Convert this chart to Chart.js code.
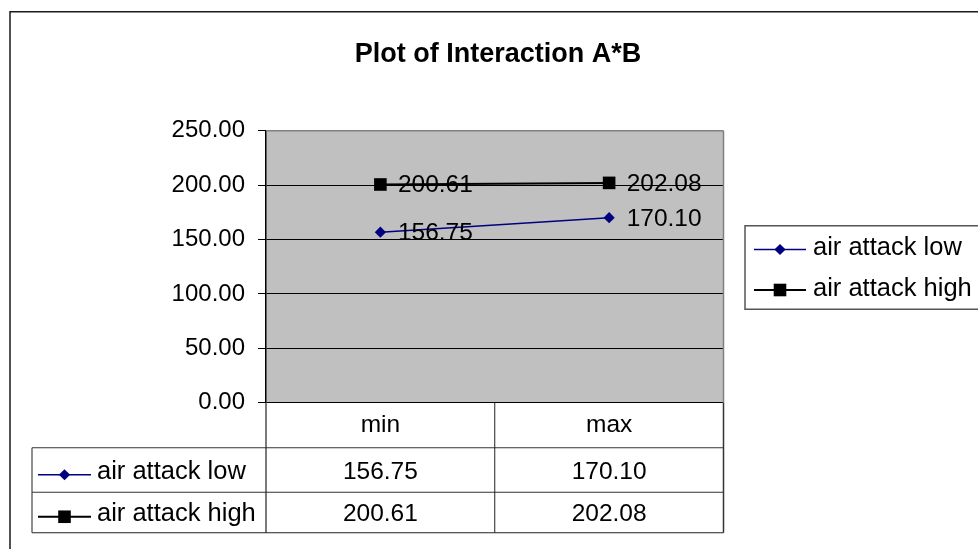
<!DOCTYPE html>
<html>
<head>
<meta charset="utf-8">
<script src="https://cdn.jsdelivr.net/npm/chart.js@4/dist/chart.umd.min.js"></script>
<style>
  html, body { margin: 0; padding: 0; background: #fff; overflow: hidden; }
  canvas { display: block; }
</style>
</head>
<body>
<canvas id="chart" width="978" height="549"></canvas>
<script>
// ---- data ----
const chartTitle = 'Plot of Interaction A*B';
const categories = ['min', 'max'];
const seriesNames = ['air attack low', 'air attack high'];
const airAttackLow = [156.75, 170.10];
const airAttackHigh = [200.61, 202.08];
const yTickValues = [0, 50, 100, 150, 200, 250];

// ---- look ----
const FONT = "'Liberation Sans', Arial, Helvetica, sans-serif";
const seriesStyles = [
  { color: '#000080', lineWidth: 1.5, marker: 'diamond', size: 5.6 },
  { color: '#000000', lineWidth: 2, marker: 'square', size: 6.3 }
];
const seriesValues = [airAttackLow, airAttackHigh];

function drawMarker(ctx, kind, x, y, s, color) {
  ctx.save();
  ctx.fillStyle = color;
  ctx.beginPath();
  if (kind === 'diamond') {
    ctx.moveTo(x, y - s); ctx.lineTo(x + s, y); ctx.lineTo(x, y + s); ctx.lineTo(x - s, y);
    ctx.closePath();
  } else {
    ctx.rect(x - s, y - s, 2 * s, 2 * s);
  }
  ctx.fill();
  ctx.restore();
}

function drawKey(ctx, i, x0, x1, y) {
  const st = seriesStyles[i];
  ctx.save();
  ctx.strokeStyle = st.color;
  ctx.lineWidth = st.lineWidth;
  ctx.beginPath(); ctx.moveTo(x0, y); ctx.lineTo(x1, y); ctx.stroke();
  ctx.restore();
  drawMarker(ctx, st.marker, (x0 + x1) / 2, y, st.size, st.color);
}

function hline(ctx, x0, x1, y, color, w) {
  ctx.save(); ctx.strokeStyle = color; ctx.lineWidth = w || 1;
  ctx.beginPath(); ctx.moveTo(x0, y); ctx.lineTo(x1, y); ctx.stroke(); ctx.restore();
}
function vline(ctx, x, y0, y1, color, w) {
  ctx.save(); ctx.strokeStyle = color; ctx.lineWidth = w || 1;
  ctx.beginPath(); ctx.moveTo(x, y0); ctx.lineTo(x, y1); ctx.stroke(); ctx.restore();
}

// background, frame and grey plot area
const backdrop = {
  id: 'backdrop',
  beforeDraw(chart) {
    const { ctx, chartArea: a } = chart;
    ctx.save();
    ctx.fillStyle = '#ffffff';
    ctx.fillRect(0, 0, chart.width, chart.height);
    ctx.strokeStyle = '#1a1a1a';
    ctx.lineWidth = 1.5;
    ctx.strokeRect(10, 11.75, 1100, 700);
    ctx.fillStyle = '#c0c0c0';
    ctx.fillRect(a.left, a.top, a.right - a.left, a.bottom - a.top);
    ctx.restore();
  }
};

// value labels next to each point
const valueLabels = {
  id: 'valueLabels',
  afterDatasetsDraw(chart) {
    const ctx = chart.ctx;
    ctx.save();
    ctx.font = '24.5px ' + FONT;
    ctx.fillStyle = '#000';
    ctx.textAlign = 'left';
    ctx.textBaseline = 'alphabetic';
    chart.data.datasets.forEach((ds, i) => {
      chart.getDatasetMeta(i).data.forEach((pt, j) => {
        ctx.fillText(ds.data[j].toFixed(2), pt.x + 17.5, pt.y + 8);
      });
    });
    ctx.restore();
  }
};

// plot border, data table, legend and title
const decorations = {
  id: 'decorations',
  afterDraw(chart) {
    const { ctx, chartArea: a } = chart;
    const xs = chart.scales.x;

    // plot area border (top and right)
    hline(ctx, a.left, a.right, a.top, '#808080', 1.5);
    vline(ctx, a.right, a.top, a.bottom, '#808080', 1.5);

    // data table under the plot
    const tableLeft = 32;
    const headTop = a.bottom;
    const headBottom = headTop + 45;
    const row1Bottom = headBottom + 44.5;
    const row2Bottom = row1Bottom + 40.5;
    const colMid = (xs.getPixelForValue(0) + xs.getPixelForValue(1)) / 2;
    const line = '#222';

    hline(ctx, tableLeft, a.right, headBottom, '#333', 1.2);
    hline(ctx, tableLeft, a.right, row1Bottom, '#333', 1.2);
    hline(ctx, tableLeft, a.right, row2Bottom, line, 1.2);
    vline(ctx, tableLeft, headBottom, row2Bottom, '#444', 1.2);
    vline(ctx, a.left, headTop, row2Bottom, line, 1.2);
    vline(ctx, colMid, headTop, row2Bottom, line, 1);
    vline(ctx, a.right, headTop, row2Bottom, '#333', 1.5);

    ctx.save();
    ctx.fillStyle = '#000';
    ctx.textBaseline = 'alphabetic';
    ctx.textAlign = 'center';
    ctx.font = '24.5px ' + FONT;
    categories.forEach((c, j) => {
      ctx.fillText(c, xs.getPixelForValue(j), headTop + 29);
    });
    const baselines = [headBottom + 31.5, row1Bottom + 29];
    seriesNames.forEach((name, i) => {
      const b = baselines[i];
      drawKey(ctx, i, 38, 91, b - 4.5);
      ctx.fillStyle = '#000';
      ctx.textAlign = 'left';
      ctx.font = '25.5px ' + FONT;
      ctx.fillText(name, 97, b);
      ctx.textAlign = 'center';
      ctx.font = '24.5px ' + FONT;
      seriesValues[i].forEach((v, j) => {
        ctx.fillText(v.toFixed(2), xs.getPixelForValue(j), b);
      });
    });

    // legend box on the right
    ctx.strokeStyle = '#555';
    ctx.lineWidth = 1.5;
    ctx.strokeRect(745, 225.75, 400, 83.5);
    const legendY = [249.5, 290];
    ctx.font = '25.5px ' + FONT;
    seriesNames.forEach((name, i) => {
      drawKey(ctx, i, 754, 806, legendY[i]);
      ctx.fillStyle = '#000';
      ctx.textAlign = 'left';
      ctx.fillText(name, 813, legendY[i] + 5.5);
    });

    // title
    ctx.font = 'bold 27px ' + FONT;
    ctx.textAlign = 'center';
    ctx.fillText(chartTitle, 498, 62);
    ctx.restore();
  }
};

new Chart(document.getElementById('chart'), {
  type: 'line',
  data: {
    labels: categories,
    datasets: seriesNames.map((name, i) => ({
      label: name,
      data: seriesValues[i],
      borderColor: seriesStyles[i].color,
      backgroundColor: seriesStyles[i].color,
      borderWidth: seriesStyles[i].lineWidth,
      pointStyle: seriesStyles[i].marker === 'diamond' ? 'rectRot' : 'rect',
      pointRadius: seriesStyles[i].marker === 'diamond' ? seriesStyles[i].size : seriesStyles[i].size / Math.SQRT1_2,
      pointBorderWidth: 0,
      pointHoverRadius: 0,
      tension: 0,
      fill: false,
      clip: false
    }))
  },
  options: {
    responsive: false,
    animation: false,
    devicePixelRatio: 1,
    events: [],
    layout: { padding: { left: 0, top: 130.75, right: 978 - 723.5, bottom: 549 - 402.75 } },
    plugins: {
      legend: { display: false },
      title: { display: false },
      tooltip: { enabled: false }
    },
    scales: {
      x: {
        type: 'category',
        offset: true,
        display: false
      },
      y: {
        min: 0,
        max: 250,
        afterFit(scale) { scale.width = 266; },
        afterBuildTicks(scale) { scale.ticks = yTickValues.map(v => ({ value: v })); },
        border: { display: true, color: '#000', width: 1.5 },
        grid: {
          color: ctx => (ctx.tick && ctx.tick.value === 250) ? 'rgba(0,0,0,0)' : '#000',
          lineWidth: 1,
          drawTicks: true,
          tickLength: 8,
          tickColor: '#000'
        },
        ticks: {
          padding: 13,
          color: '#000',
          font: { family: FONT, size: 24 },
          callback: v => Number(v).toFixed(2)
        }
      }
    }
  },
  plugins: [backdrop, valueLabels, decorations]
});
</script>
</body>
</html>
